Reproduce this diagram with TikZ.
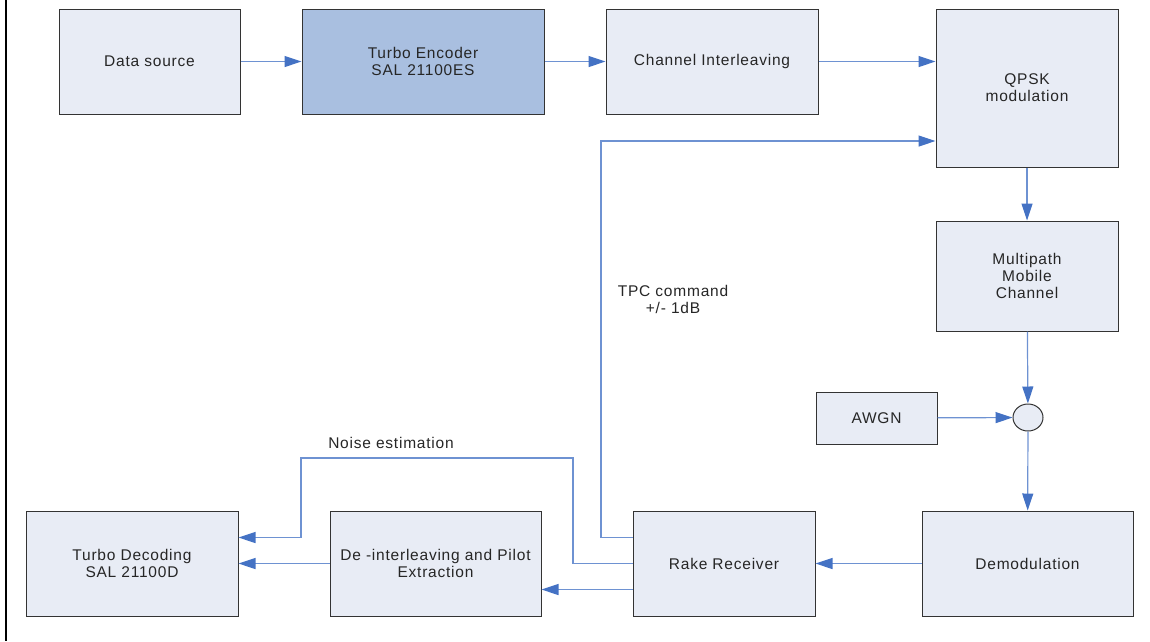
\documentclass[tikz,border=0pt]{standalone}
\usepackage{fontspec}
\setmainfont{Liberation Sans}[LetterSpace=5]
\usetikzlibrary{positioning, arrows.meta, shapes.geometric}
\definecolor{boxfill}{RGB}{232,236,245}
\definecolor{encfill}{RGB}{169,191,224}
\definecolor{flow}{RGB}{68,114,196}
\definecolor{flowline}{RGB}{110,146,210}

\begin{document}
\begin{tikzpicture}[x=1pt, y=-1pt,
  every node/.style={font=\fontsize{15.5}{17}\selectfont, text=black!85},
  block/.style={draw=black!80, line width=1pt, fill=boxfill, align=center, inner sep=0pt},
  arr/.style={draw=flowline, line width=1.2pt, -{Triangle[length=17pt, width=11pt, color=flow]}}]
  \useasboundingbox (0,0) rectangle (1150,641);
  \draw[line width=2pt] (6,0) -- (6,641);

  \node[block, minimum width=181pt, minimum height=105pt] at (149.5,61.5) (src)  {Data source};
  \node[block, fill=encfill, minimum width=242pt, minimum height=105pt, right=61pt of src] (enc) {Turbo Encoder\\SAL 21100ES};
  \node[block, minimum width=212pt, minimum height=105pt, right=61pt of enc] (chi) {Channel Interleaving};
  \node[block, minimum width=182pt, minimum height=158pt] at (1027,88) (qpsk) {QPSK\\modulation};
  \node[block, minimum width=182pt, minimum height=110pt, below=53pt of qpsk] (mmc) {Multipath\\Mobile\\Channel};
  \node[draw=black!80, line width=1pt, fill=boxfill, ellipse, minimum width=30pt, minimum height=27pt, inner sep=0pt] at (1028,417.5) (sum) {};
  \node[block, minimum width=121pt, minimum height=52pt] at (876.5,418) (awgn) {AWGN};
  \node[block, minimum width=211pt, minimum height=105pt] at (1027.5,563.5) (dem) {Demodulation};
  \node[block, minimum width=182pt, minimum height=105pt, left=106pt of dem] (rake) {Rake Receiver};
  \node[block, minimum width=211pt, minimum height=105pt, left=91pt of rake] (dei) {De -interleaving and Pilot\\Extraction};
  \node[block, minimum width=212pt, minimum height=105pt, left=91pt of dei] (dec) {Turbo Decoding\\SAL 21100D};

  \coordinate (tpc) at (601,141);
  \coordinate (n1) at (573,458);
  \coordinate (n2) at (301,458);

  \draw[arr] (src) -- (enc);
  \draw[arr] (enc) -- (chi);
  \draw[arr] (chi.east) -- (chi.east -| qpsk.west);
  \draw[arr] (qpsk) -- (mmc);
  \draw[arr] (mmc) -- (sum);
  \draw[arr] (awgn) -- (sum);
  \draw[arr] (sum) -- (dem);
  \draw[arr] (dem) -- (rake);
  \draw[arr] ([yshift=26pt]rake.west) -| (tpc) -- (tpc -| qpsk.west);
  \draw[arr] (rake.west) -| (n1) -- (n2) |- ([yshift=26pt]dec.east);
  \draw[arr] ([yshift=-26pt]rake.west) -- ([yshift=-26pt]rake.west -| dei.east);
  \draw[arr] (dei) -- (dec);

  \node[align=center] at (673,299) (tpclbl) {TPC command\\+/- 1dB};
  \node at (391,443) (noiselbl) {Noise estimation};
\end{tikzpicture}
\end{document}
